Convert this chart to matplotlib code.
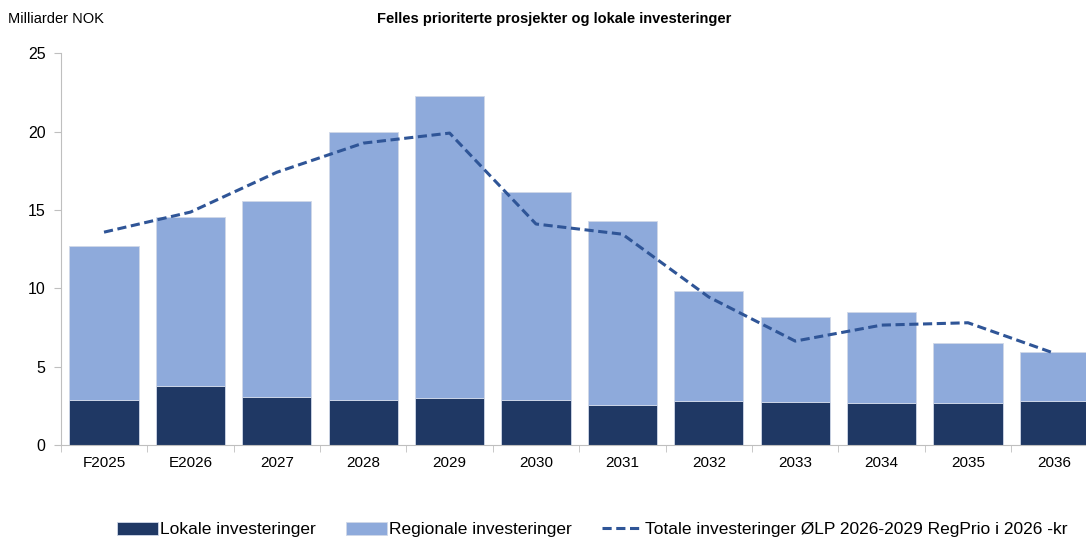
import matplotlib
matplotlib.use("Agg")
import matplotlib.pyplot as plt
import numpy as np

plt.rcParams['font.family'] = ['Liberation Sans', 'DejaVu Sans']

categories = ["F2025", "E2026", "2027", "2028", "2029", "2030", "2031", "2032", "2033", "2034", "2035", "2036"]
lokale = [2.87, 3.76, 3.06, 2.87, 3.0, 2.87, 2.55, 2.8, 2.74, 2.66, 2.7, 2.79]
totals_bar = [12.7, 14.54, 15.56, 19.96, 22.26, 16.13, 14.29, 9.82, 8.16, 8.5, 6.49, 5.93]
regionale = [t - l for t, l in zip(totals_bar, lokale)]
totale_olp = [13.58, 14.86, 17.4, 19.26, 19.9, 14.1, 13.45, 9.44, 6.63, 7.65, 7.8, 5.85]

dark = "#1f3864"
light = "#8eaadb"
line_c = "#2f5597"

fig = plt.figure(figsize=(10.86, 5.37), dpi=100)
ax = fig.add_axes([0.056, 0.1713, 0.9547, 0.7297])
x = np.arange(len(categories))
w = 0.8
b1 = ax.bar(x, lokale, w, color=dark, edgecolor="#d0d8e8", linewidth=0.6, label="Lokale investeringer")
b2 = ax.bar(x, regionale, w, bottom=lokale, color=light, edgecolor="#d0d8e8", linewidth=0.6, label="Regionale investeringer")
ln, = ax.plot(x, totale_olp, color=line_c, linestyle=(0, (3, 1.5)), linewidth=2.2, label="Totale investeringer ØLP 2026-2029 RegPrio i 2026 -kr")

ax.set_ylim(0, 25)
ax.set_yticks([0, 5, 10, 15, 20, 25])
ax.set_xlim(-0.5, 11.5)
ax.set_xticks(x)
ax.set_xticklabels(categories)
ax.set_xticks(np.arange(-0.5, 11.6, 1), minor=True)
ax.tick_params(axis='x', which='major', length=0, pad=8, labelsize=11)
ax.tick_params(axis='x', which='minor', length=5, color="#bfbfbf", direction='out')
ax.tick_params(axis='y', length=5, color="#bfbfbf", labelsize=11.5, pad=6)
for s in ['top', 'right']:
    ax.spines[s].set_visible(False)
ax.spines['left'].set_color("#bfbfbf")
ax.spines['bottom'].set_color("#bfbfbf")

fig.text(0.007, 0.965, "Milliarder NOK", fontsize=10.5, ha='left', va='center')
fig.text(0.51, 0.965, "Felles prioriterte prosjekter og lokale investeringer", fontsize=10.5, fontweight='bold', ha='center', va='center')

fig.legend([b1, b2, ln], [b1.get_label(), b2.get_label(), ln.get_label()], loc='lower left',
           bbox_to_anchor=(0.093, -0.03), ncol=3, frameon=False, fontsize=12.5,
           handlelength=2.4, handleheight=0.8, columnspacing=1.7, handletextpad=0.12)

fig.savefig("out.png", dpi=100)
